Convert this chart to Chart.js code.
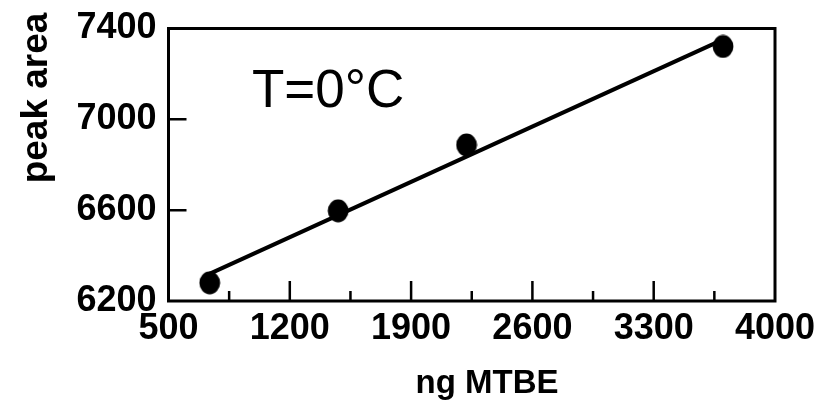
<!DOCTYPE html>
<html><head><meta charset="utf-8">
<script src="https://cdn.jsdelivr.net/npm/chart.js@4"></script>
<style>html,body{margin:0;padding:0;background:#fff}#wrap{width:828px;height:410px}</style>
</head><body><div id="wrap"><canvas id="c" width="828" height="410"></canvas></div>
<script>
// ---- data ----
const massNg = [738, 1479, 2220, 3700];          // ng MTBE
const peakArea = [6280, 6597, 6887, 7321];       // peak area
const fitMass = [730, 3690];                     // regression line ends
const fitArea = [6317, 7348];
const xTicks = [500, 1200, 1900, 2600, 3300, 4000];
const xMajorInner = [1200, 1900, 2600, 3300];
const xMinorTicks = [850, 1550, 2250, 2950, 3650];
const yTicks = [6200, 6600, 7000, 7400];
const yInner = [6600, 7000];
const xTitle = 'ng MTBE';
const yTitle = 'peak area';
const note = 'T=0°C';

const FAM = '"Liberation Sans", Arial, Helvetica, sans-serif';

// slightly tall elliptical marker like the reference
const marker = document.createElement('canvas');
marker.width = 22; marker.height = 24;
(function () {
  const m = marker.getContext('2d');
  m.fillStyle = '#000';
  m.beginPath();
  m.ellipse(11, 12, 10.4, 11.4, 0, 0, Math.PI * 2);
  m.fill();
})();

const framePlugin = {
  id: 'frame',
  afterDraw(chart) {
    const {ctx, chartArea: a, scales: {x, y}} = chart;
    ctx.save();
    ctx.strokeStyle = '#000';
    ctx.lineWidth = 3;
    ctx.strokeRect(a.left, a.top, a.right - a.left, a.bottom - a.top);
    ctx.lineWidth = 2.5;
    ctx.beginPath();
    xMajorInner.forEach(v => { const p = x.getPixelForValue(v); ctx.moveTo(p, a.bottom); ctx.lineTo(p, a.bottom - 20); });
    xMinorTicks.forEach(v => { const p = x.getPixelForValue(v); ctx.moveTo(p, a.bottom); ctx.lineTo(p, a.bottom - 10); });
    yInner.forEach(v => { const p = y.getPixelForValue(v); ctx.moveTo(a.left, p); ctx.lineTo(a.left + 18, p); });
    ctx.stroke();
    ctx.fillStyle = '#000';
    // annotation
    ctx.font = '53px ' + FAM;
    ctx.textAlign = 'left';
    ctx.textBaseline = 'alphabetic';
    ctx.fillText(note, 252, 107);
    // x title
    ctx.font = 'bold 33px ' + FAM;
    ctx.textAlign = 'center';
    ctx.fillText(xTitle, 487, 393);
    // y title
    ctx.save();
    ctx.translate(47, 98);
    ctx.rotate(-Math.PI / 2);
    ctx.font = 'bold 37px ' + FAM;
    ctx.textAlign = 'center';
    ctx.fillText(yTitle, 0, 0);
    ctx.restore();
    ctx.restore();
  }
};

new Chart(document.getElementById('c'), {
  type: 'scatter',
  data: {
    datasets: [
      { data: fitMass.map((m, i) => ({x: m, y: fitArea[i]})), showLine: true, borderColor: '#000', borderWidth: 4, pointRadius: 0, order: 2 },
      { data: massNg.map((m, i) => ({x: m, y: peakArea[i]})), showLine: false, backgroundColor: '#000', borderColor: '#000', pointRadius: 11, pointStyle: marker, order: 1 }
    ]
  },
  options: {
    responsive: false,
    animation: false,
    devicePixelRatio: 1,
    layout: { padding: { top: 28.5, right: 53, left: 0, bottom: 0 } },
    plugins: { legend: { display: false }, tooltip: { enabled: false } },
    scales: {
      x: {
        type: 'linear', min: 500, max: 4000,
        afterBuildTicks: s => { s.ticks = xTicks.map(v => ({value: v})); },
        afterFit: s => { s.height = 109; s.paddingLeft = 0; s.paddingRight = 0; },
        grid: { display: false, drawTicks: false }, border: { display: false },
        ticks: { color: '#000', padding: 6, maxRotation: 0, autoSkip: false, callback: v => String(v), font: { family: FAM, size: 36, weight: 'bold' } }
      },
      y: {
        type: 'linear', min: 6200, max: 7400,
        afterBuildTicks: s => { s.ticks = yTicks.map(v => ({value: v})); },
        afterFit: s => { s.width = 168.5; s.paddingTop = 0; s.paddingBottom = 0; },
        grid: { display: false, drawTicks: false }, border: { display: false },
        ticks: { color: '#000', padding: 12, autoSkip: false, callback: v => String(v), font: { family: FAM, size: 36, weight: 'bold' } }
      }
    }
  },
  plugins: [framePlugin]
});
</script></body></html>
